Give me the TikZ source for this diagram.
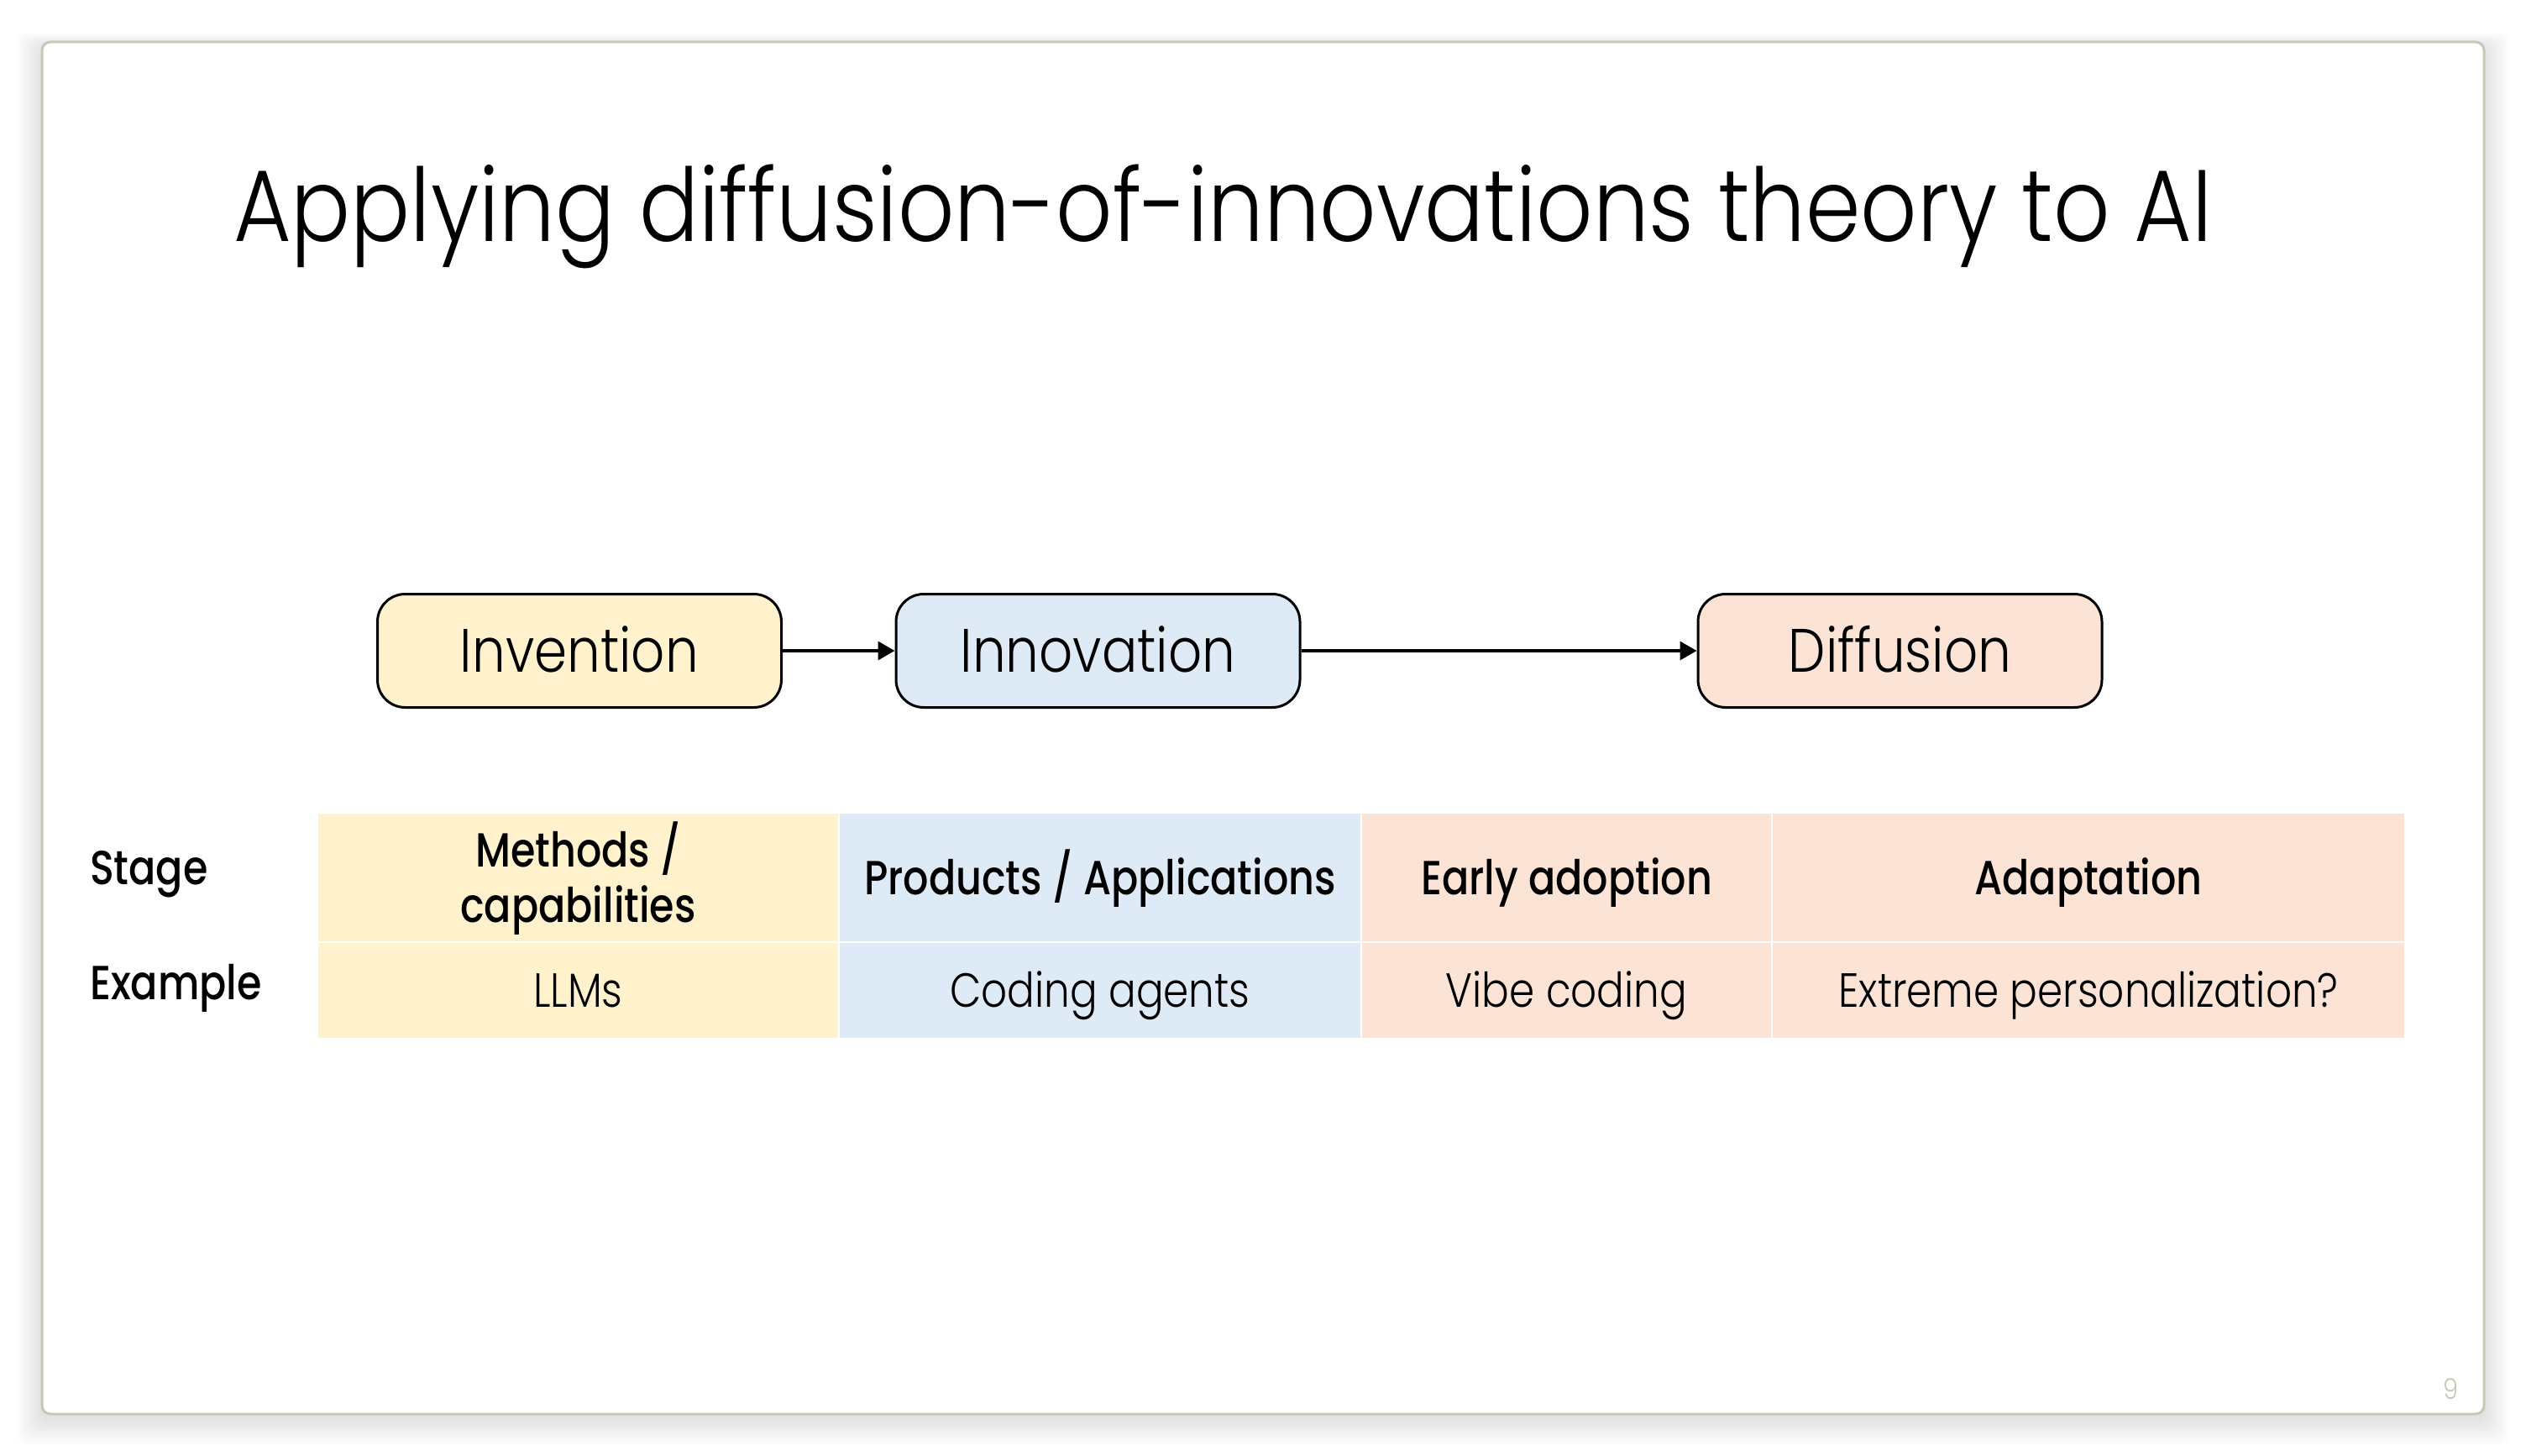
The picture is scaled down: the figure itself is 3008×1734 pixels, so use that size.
\documentclass[tikz,border=0pt]{standalone}
\usepackage{fontspec}
\setmainfont{Poppins}
\newfontfamily\fTitle{Poppins Light}[FakeStretch=0.87]
\newfontfamily\fLight{Poppins Light}[FakeStretch=0.85]
\newfontfamily\fBox{Poppins Light}[FakeStretch=0.86]
\newfontfamily\fMed{Poppins Medium}[FakeStretch=0.835]
\usetikzlibrary{arrows.meta}
\definecolor{cyellow}{HTML}{FFF2CC}
\definecolor{cblue}{HTML}{DEEAF6}
\definecolor{corange}{HTML}{FBE4D5}
\definecolor{frameg}{HTML}{CAC6B8}
\tikzset{
  stagebox/.style={draw=black, line width=3pt, rounded corners=33pt, minimum width=481pt,
    minimum height=135pt, inner sep=0pt, text height=51pt, text depth=0pt,
    font=\fBox\fontsize{73}{88}\selectfont},
  arr/.style={line width=3.5pt, -{Triangle[length=20pt,width=22pt]}},
  cell/.style={draw=white, line width=2.5pt, inner sep=0pt, outer sep=0pt,
    text height=40pt, text depth=0pt},
  headrow/.style={cell, minimum height=154pt, font=\fMed\fontsize{57}{66}\selectfont},
  bodyrow/.style={cell, minimum height=115pt, font=\fLight\fontsize{57}{66}\selectfont},
  rowlabel/.style={anchor=base west, inner sep=0pt, font=\fMed\fontsize{57}{66}\selectfont},
}
\begin{document}
\begin{tikzpicture}[x=1pt,y=-1pt]
\useasboundingbox (0,0) rectangle (3008,1734);
% soft shadow of the slide
\foreach \i in {1,...,14}{
  \fill[black, opacity=0.008, rounded corners=12pt]
    (50-\i*2.2, 50-\i*1.2+6) rectangle (2958+\i*2.2, 1684+\i*2.2+6);
}
\draw[frameg, line width=3pt, fill=white, rounded corners=10pt] (50,50) rectangle (2958,1684);
% title
\node[anchor=base west, inner sep=0pt, font=\fTitle\fontsize{121}{140}\selectfont] (title) at (278,287)
  {Applying diffusion-of-innovations theory to AI};
% stages
\node[stagebox, fill=cyellow] (inv) at (690,775) {Invention};
\node[stagebox, fill=cblue] (innov) at (1307.5,775) {Innovation};
\node[stagebox, fill=corange] (diff) at (2262.5,775) {Diffusion};
\draw[arr] (inv.east) -- (innov.west);
\draw[arr] (innov.east) -- (diff.west);
% table
\node[headrow, fill=cyellow, minimum width=621pt, text height=106pt] (h1) at (688.5,1045)
  {\begin{tabular}[b]{@{}c@{}}Methods /\\capabilities\end{tabular}};
\node[headrow, fill=cblue, minimum width=622pt] (h2) at (1310,1045) {Products / Applications};
\node[headrow, fill=corange, minimum width=489pt] (h3) at (1865.5,1045) {Early adoption};
\node[headrow, fill=corange, minimum width=754pt] (h4) at (2487,1045) {Adaptation};
\node[bodyrow, fill=cyellow, minimum width=621pt] (b1) at (688.5,1179.5) {LLMs};
\node[bodyrow, fill=cblue, minimum width=622pt] (b2) at (1310,1179.5) {Coding agents};
\node[bodyrow, fill=corange, minimum width=489pt] (b3) at (1865.5,1179.5) {Vibe coding};
\node[bodyrow, fill=corange, minimum width=754pt] (b4) at (2487,1179.5) {Extreme personalization?};
\node[rowlabel] (lstage) at (107,1053) {Stage};
\node[rowlabel] (lexample) at (107,1190) {Example};
% page number
\node[anchor=base, inner sep=0pt, text=frameg, font=\fLight\fontsize{34}{40}\selectfont] (pg) at (2918,1666) {9};
\end{tikzpicture}
\end{document}
